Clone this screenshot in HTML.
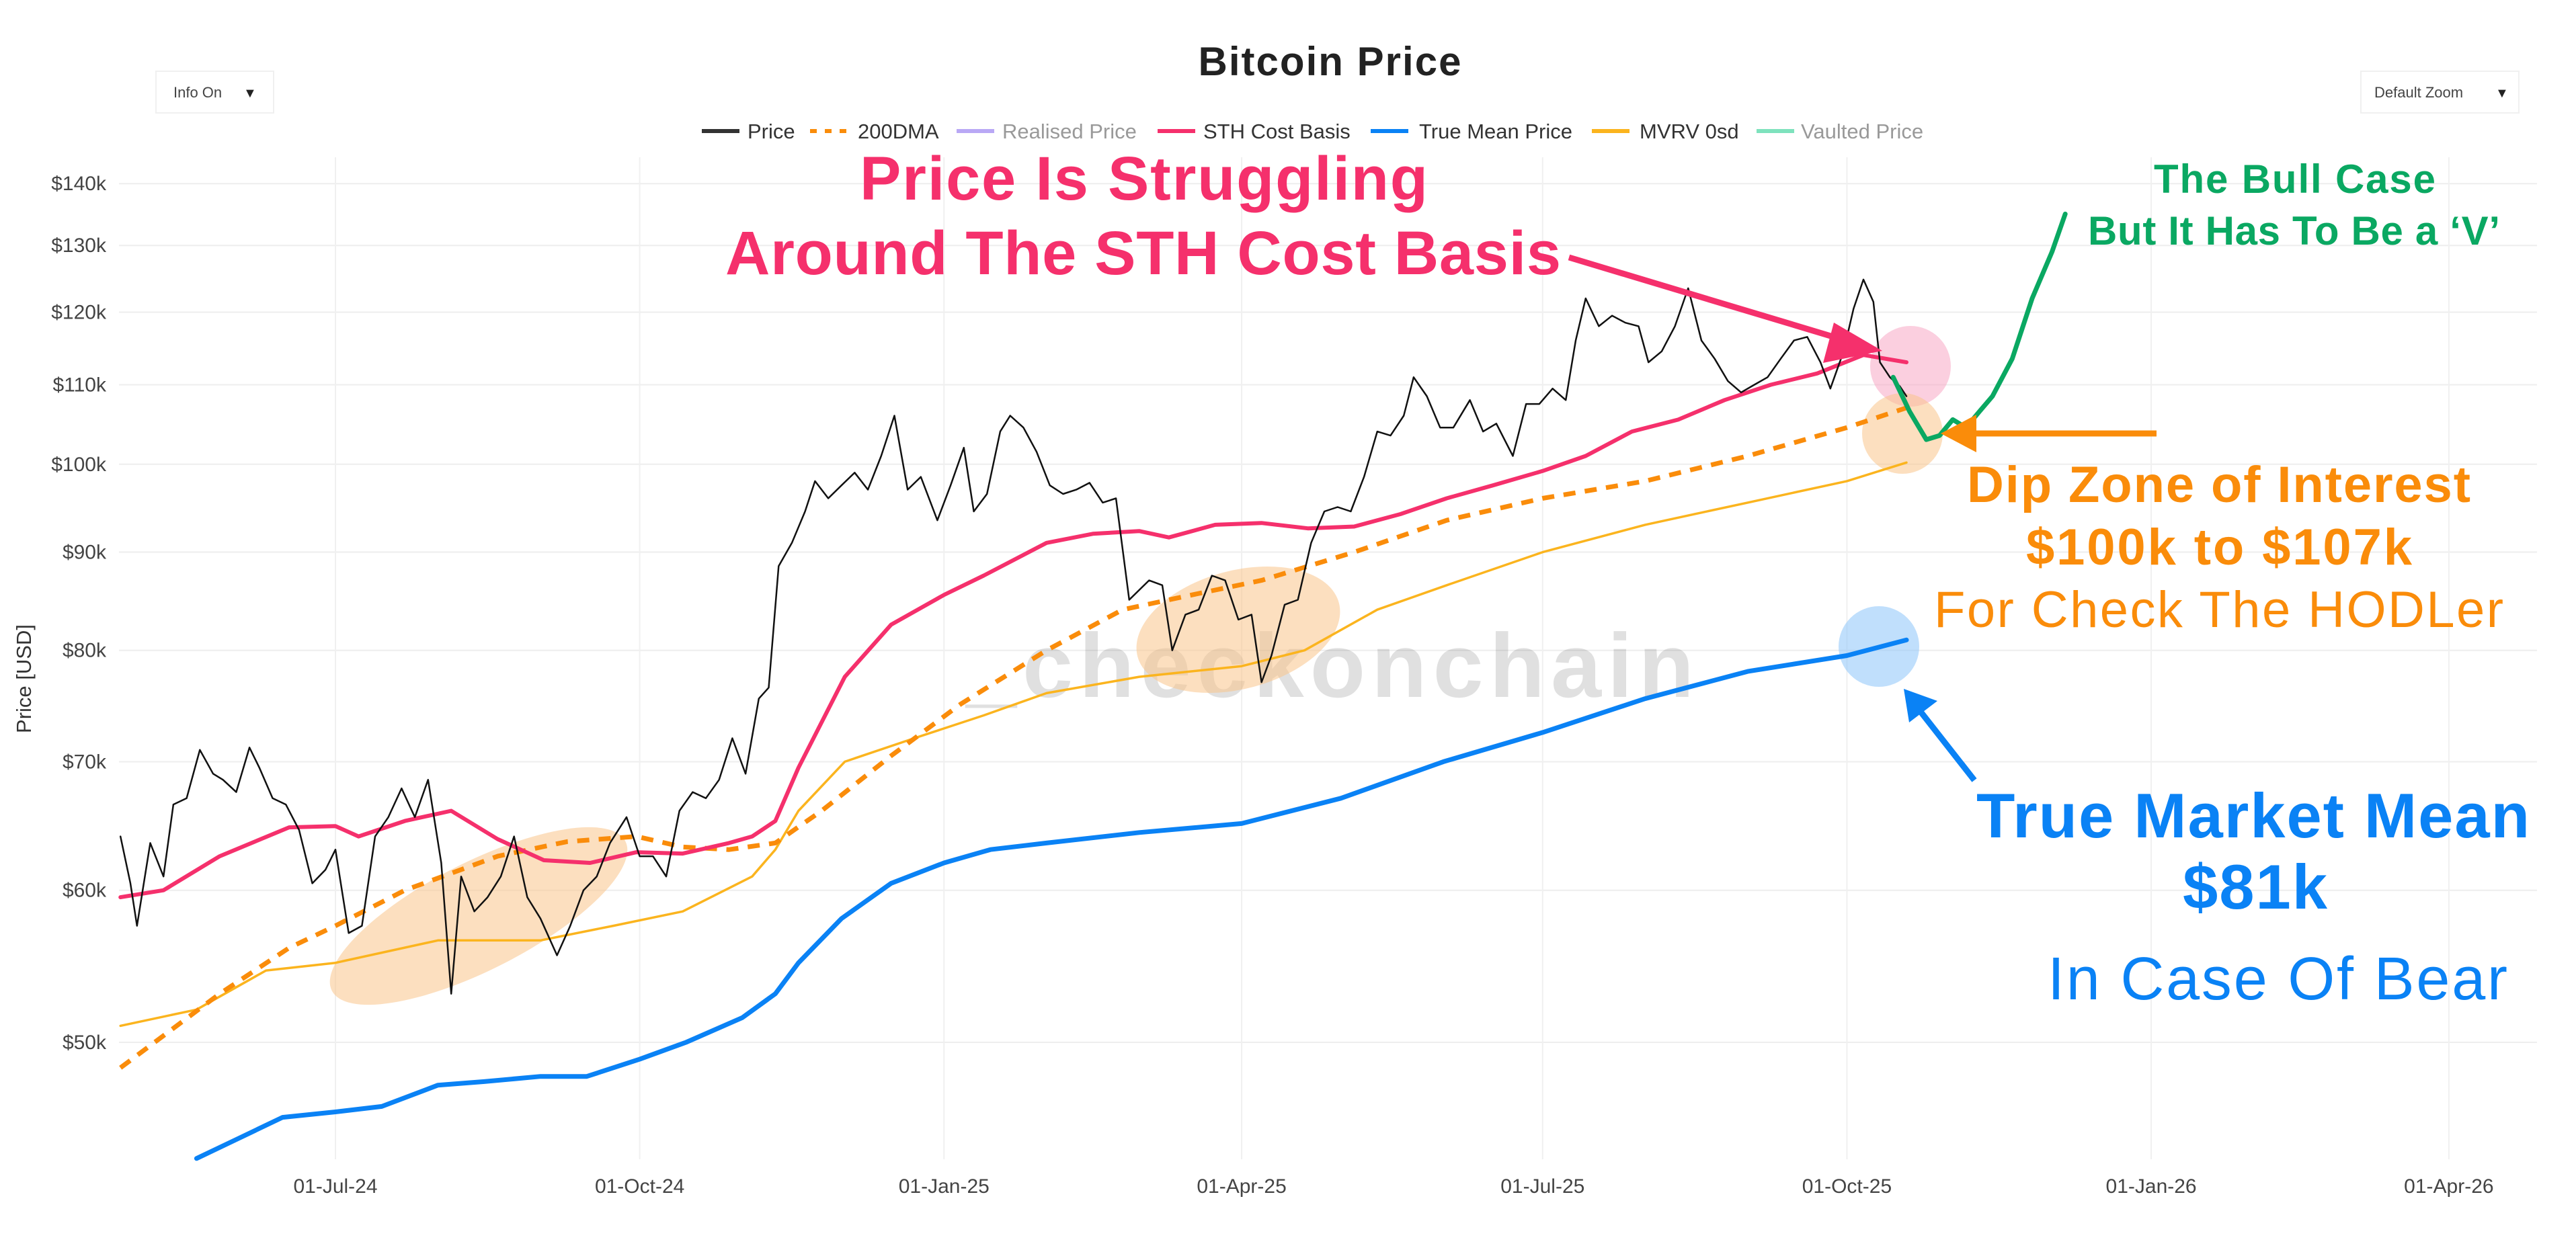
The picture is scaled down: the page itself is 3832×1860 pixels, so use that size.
<!DOCTYPE html>
<html><head><meta charset="utf-8"><style>
html,body{margin:0;padding:0;background:#fff;}
svg{display:block;font-family:"Liberation Sans",sans-serif;}
</style></head><body>
<svg id="chart" width="3832" height="1860" viewBox="0 0 3832 1860" xmlns="http://www.w3.org/2000/svg">
<text x="1978" y="112" text-anchor="middle" font-size="60" font-weight="bold" fill="#222" textLength="391">Bitcoin Price</text>
<g>
<rect x="232" y="106" width="175" height="62" fill="#fff" stroke="#f0f0f0" stroke-width="2"/>
<text x="258" y="145" font-size="22" fill="#444">Info On</text><text x="362" y="145" font-size="20" fill="#222">▼</text></g>
<g>
<rect x="3512" y="106" width="235" height="62" fill="#fff" stroke="#f0f0f0" stroke-width="2"/>
<text x="3532" y="145" font-size="22" fill="#444">Default Zoom</text><text x="3712" y="145" font-size="20" fill="#222">▼</text></g>
<g id="legend" font-size="31"></g>
<g id="grid"></g>
<text x="0" y="0" transform="translate(46,1010) rotate(-90)" text-anchor="middle" font-size="31" fill="#333">Price [USD]</text>
<text x="1437" y="1037" font-size="135" font-weight="bold" fill="#000" fill-opacity="0.12" textLength="1083">_checkonchain</text>
<g>
<ellipse cx="712" cy="1363" rx="245" ry="80" transform="rotate(-27 712 1363)" fill="#f9c48a" fill-opacity="0.55"/>
<ellipse cx="1842" cy="937" rx="155" ry="88" transform="rotate(-15 1842 937)" fill="#f9c48a" fill-opacity="0.55"/>
<circle cx="2842" cy="545" r="60" fill="#f7a8c4" fill-opacity="0.55"/>
<circle cx="2830" cy="645" r="60" fill="#f9c48a" fill-opacity="0.55"/>
<circle cx="2795" cy="962" r="60" fill="#8cc4fa" fill-opacity="0.55"/>
</g>
<g id="series"></g>
<g font-weight="bold">
<text x="1279" y="297" font-size="92" fill="#f5306c" textLength="845">Price Is Struggling</text>
<text x="1079" y="408" font-size="92" fill="#f5306c" textLength="1243">Around The STH Cost Basis</text>
<line x1="2334" y1="383" x2="2750" y2="508" stroke="#f5306c" stroke-width="9"/>
<polygon points="2800,522 2728,480 2712,540" fill="#f5306c"/>
<text x="3204" y="287" font-size="60" fill="#0aa862" textLength="419">The Bull Case</text>
<text x="3106" y="364" font-size="60" fill="#0aa862" textLength="613">But It Has To Be a ‘V’</text>
<line x1="3208" y1="645" x2="2920" y2="645" stroke="#fa8c0a" stroke-width="9"/>
<polygon points="2887,645 2940,617 2940,673" fill="#fa8c0a"/>
<text x="2926" y="747" font-size="76" fill="#fa8c0a" textLength="749">Dip Zone of Interest</text>
<text x="3014" y="840" font-size="76" fill="#fa8c0a" textLength="574">$100k to $107k</text>
<text x="2877" y="933" font-size="76" font-weight="normal" fill="#fa8c0a" textLength="847">For Check The HODLer</text>
<line x1="2937" y1="1161" x2="2850" y2="1050" stroke="#0a82f5" stroke-width="9"/>
<polygon points="2832,1025 2882,1043 2840,1075" fill="#0a82f5"/>
<text x="2940" y="1246" font-size="94" fill="#0a82f5" textLength="823">True Market Mean</text>
<text x="3247" y="1352" font-size="94" fill="#0a82f5" textLength="215">$81k</text>
<text x="3046" y="1487" font-size="90" font-weight="normal" fill="#0a82f5" textLength="684">In Case Of Bear</text>
</g>
</svg>
<script>
const priceDates=["2024-04-27","2024-04-30","2024-05-02","2024-05-06","2024-05-10","2024-05-13","2024-05-17","2024-05-21","2024-05-25","2024-05-28","2024-06-01","2024-06-05","2024-06-08","2024-06-12","2024-06-16","2024-06-20","2024-06-24","2024-06-28","2024-07-01","2024-07-05","2024-07-09","2024-07-13","2024-07-17","2024-07-21","2024-07-25","2024-07-29","2024-08-02","2024-08-05","2024-08-08","2024-08-12","2024-08-16","2024-08-20","2024-08-24","2024-08-28","2024-09-01","2024-09-06","2024-09-10","2024-09-14","2024-09-18","2024-09-22","2024-09-27","2024-10-01","2024-10-05","2024-10-09","2024-10-13","2024-10-17","2024-10-21","2024-10-25","2024-10-29","2024-11-02","2024-11-06","2024-11-09","2024-11-12","2024-11-16","2024-11-20","2024-11-23","2024-11-27","2024-12-01","2024-12-05","2024-12-09","2024-12-13","2024-12-17","2024-12-21","2024-12-25","2024-12-30","2025-01-03","2025-01-07","2025-01-10","2025-01-14","2025-01-18","2025-01-21","2025-01-25","2025-01-29","2025-02-02","2025-02-06","2025-02-10","2025-02-14","2025-02-18","2025-02-22","2025-02-26","2025-03-01","2025-03-04","2025-03-08","2025-03-11","2025-03-15","2025-03-19","2025-03-23","2025-03-27","2025-03-31","2025-04-04","2025-04-07","2025-04-10","2025-04-14","2025-04-18","2025-04-22","2025-04-26","2025-04-30","2025-05-04","2025-05-08","2025-05-12","2025-05-16","2025-05-20","2025-05-23","2025-05-27","2025-05-31","2025-06-04","2025-06-09","2025-06-13","2025-06-17","2025-06-22","2025-06-26","2025-06-30","2025-07-04","2025-07-08","2025-07-11","2025-07-14","2025-07-18","2025-07-22","2025-07-26","2025-07-30","2025-08-02","2025-08-06","2025-08-10","2025-08-14","2025-08-18","2025-08-22","2025-08-26","2025-08-30","2025-09-03","2025-09-07","2025-09-11","2025-09-15","2025-09-19","2025-09-23","2025-09-26","2025-09-30","2025-10-03","2025-10-06","2025-10-09","2025-10-11","2025-10-14","2025-10-17","2025-10-19"];
const priceValues=[64000,60500,57500,63500,61000,66500,67000,71000,69000,68500,67500,71200,69500,67000,66500,64500,60500,61500,63000,57000,57500,64000,65500,67800,65500,68500,62000,53000,61000,58500,59500,61000,64000,59500,58000,55500,57500,60000,61000,63500,65500,62500,62500,61000,66000,67500,67000,68500,72000,69000,75500,76500,88500,91000,94500,98000,96000,97500,99000,97000,101000,106000,97000,98500,93500,97500,102000,94500,96500,104000,106000,104500,101500,97500,96500,97000,97800,95500,96000,85000,86000,87000,86500,80000,83500,84000,87500,87000,83000,83500,77000,79500,84500,85000,91000,94500,95000,94500,98500,104000,103500,106000,111000,108500,104500,104500,108000,104000,105000,101000,107500,107500,109500,108000,116000,122000,118000,119500,118500,118000,113000,114500,118000,123500,116000,113500,110500,109000,110000,111000,113500,116000,116500,113000,109500,114500,120500,124800,121500,113000,111000,109800,108500];
const sthDates=["2024-04-27","2024-05-10","2024-05-27","2024-06-17","2024-07-01","2024-07-08","2024-07-22","2024-08-05","2024-08-19","2024-09-02","2024-09-16","2024-09-30","2024-10-14","2024-10-28","2024-11-04","2024-11-11","2024-11-18","2024-12-02","2024-12-16","2025-01-01","2025-01-13","2025-02-01","2025-02-15","2025-03-01","2025-03-10","2025-03-24","2025-04-07","2025-04-21","2025-05-05","2025-05-19","2025-06-02","2025-06-16","2025-07-01","2025-07-14","2025-07-28","2025-08-11","2025-08-25","2025-09-08","2025-09-22","2025-10-06","2025-10-19"];
const sthValues=[59500,60000,62500,64700,64800,64000,65200,66000,63800,62200,62000,62800,62700,63500,64000,65200,69500,77500,82500,85500,87500,91000,92000,92300,91600,93000,93200,92600,92800,94200,96000,97500,99200,101000,104000,105500,108000,110000,111500,114000,113000];
const dmaDates=["2024-04-27","2024-05-27","2024-06-17","2024-07-01","2024-07-22","2024-08-19","2024-09-09","2024-09-30","2024-10-14","2024-10-28","2024-11-11","2024-11-25","2024-12-16","2025-01-06","2025-02-01","2025-02-24","2025-03-17","2025-04-07","2025-05-05","2025-06-02","2025-07-01","2025-08-01","2025-09-01","2025-10-01","2025-10-19"];
const dmaValues=[48500,53000,56000,57500,60000,62500,63600,64000,63200,63000,63500,66000,70500,75000,80000,84000,85500,87000,90000,93500,96000,98000,101000,104500,107000];
const mvrvDates=["2024-04-27","2024-05-20","2024-06-10","2024-07-01","2024-08-01","2024-09-01","2024-09-23","2024-10-14","2024-11-04","2024-11-11","2024-11-18","2024-12-02","2024-12-23","2025-01-13","2025-02-01","2025-03-01","2025-04-01","2025-04-20","2025-05-12","2025-06-02","2025-07-01","2025-08-01","2025-09-01","2025-10-01","2025-10-19"];
const mvrvValues=[51000,52000,54500,55000,56500,56500,57500,58500,61000,63000,66000,70000,72000,74000,76000,77500,78500,80000,84000,86500,90000,93000,95500,98000,100200];
const tmpDates=["2024-05-20","2024-06-01","2024-06-15","2024-07-01","2024-07-15","2024-08-01","2024-08-15","2024-09-01","2024-09-15","2024-10-01","2024-10-15","2024-11-01","2024-11-11","2024-11-18","2024-12-01","2024-12-16","2025-01-01","2025-01-15","2025-02-01","2025-03-01","2025-04-01","2025-05-01","2025-06-01","2025-07-01","2025-08-01","2025-09-01","2025-10-01","2025-10-19"];
const tmpValues=[43500,44500,45700,46000,46300,47500,47700,48000,48000,49000,50000,51500,53000,55000,58000,60500,62000,63000,63500,64300,65000,67000,70000,72500,75500,78000,79500,81000];
const bullDates=["2025-10-15","2025-10-20","2025-10-25","2025-10-29","2025-11-02","2025-11-06","2025-11-10","2025-11-14","2025-11-20","2025-11-26","2025-12-02","2025-12-06"];
const bullValues=[111000,106500,103000,103500,105500,104500,106500,108500,113500,122000,129000,135000];
const yTickValues=[50000,60000,70000,80000,90000,100000,110000,120000,130000,140000];
const yTickLabels=["$50k","$60k","$70k","$80k","$90k","$100k","$110k","$120k","$130k","$140k"];
const xTickDates=["2024-07-01","2024-10-01","2025-01-01","2025-04-01","2025-07-01","2025-10-01","2026-01-01","2026-04-01"];
const xTickLabels=["01-Jul-24","01-Oct-24","01-Jan-25","01-Apr-25","01-Jul-25","01-Oct-25","01-Jan-26","01-Apr-26"];

const NS="http://www.w3.org/2000/svg";
const PL=177,PR=3774,PT=234,PB=1725;
const d0=Date.UTC(2024,6,1);
function xs(ds){const p=ds.split("-");return 499+((Date.UTC(+p[0],+p[1]-1,+p[2])-d0)/86400000)*4.92;}
function ys(v){return 1551-1241*Math.log(v/50000);}
function mk(tag,attrs,parent){const e=document.createElementNS(NS,tag);for(const k in attrs)e.setAttribute(k,attrs[k]);parent.appendChild(e);return e;}
const grid=document.getElementById("grid");
yTickValues.forEach((v,i)=>{
  const l=mk("line",{x1:PL,x2:PR,y1:ys(v),y2:ys(v),stroke:"#eeeeee","stroke-width":2},grid);
  
  
  const t=mk("text",{x:158,y:ys(v)+10,"text-anchor":"end","font-size":30,fill:"#444"},grid);
  t.textContent=yTickLabels[i];
  
  
});
xTickDates.forEach((d,i)=>{
  const l=mk("line",{x1:xs(d),x2:xs(d),y1:PT,y2:PB,stroke:"#f0f0f0","stroke-width":2},grid);
  
  
  const t=mk("text",{x:xs(d),y:1775,"text-anchor":"middle","font-size":30,fill:"#444"},grid);
  t.textContent=xTickLabels[i];
  
  
});
const series=document.getElementById("series");
function line(dates,vals,style,name){
  const pts=dates.map((d,i)=>xs(d).toFixed(1)+","+ys(vals[i]).toFixed(1)).join(" ");
  const p=mk("polyline",Object.assign({points:pts,fill:"none","stroke-linejoin":"round","stroke-linecap":"round"},style),series);
  
  
}
line(mvrvDates,mvrvValues,{stroke:"#fbb41e","stroke-width":3.5},"mvrv-0sd-line");
line(dmaDates,dmaValues,{stroke:"#fa8c0a","stroke-width":7,"stroke-dasharray":"18 14","stroke-linecap":"butt"},"200dma-line");
line(tmpDates,tmpValues,{stroke:"#0a82f5","stroke-width":7},"true-mean-price-line");
line(sthDates,sthValues,{stroke:"#f5306c","stroke-width":6},"sth-cost-basis-line");
line(priceDates,priceValues,{stroke:"#111","stroke-width":2.5},"price-line");
line(bullDates,bullValues,{stroke:"#0aa862","stroke-width":7},"bull-case-path");
const legend=document.getElementById("legend");
const legItems=[["Price","#333",1044,1112,"",1],["200DMA","#fa8c0a",1205,1276,"10 12",1],["Realised Price","#b9a8f5",1423,1491,"",0],["STH Cost Basis","#f5306c",1722,1790,"",1],["True Mean Price","#0a82f5",2039,2111,"",1],["MVRV 0sd","#fbb41e",2368,2439,"",1],["Vaulted Price","#7ee2bd",2613,2679,"",0]];
legItems.forEach(it=>{
  const g=mk("g",{},legend);
  
  
  mk("line",{x1:it[2],x2:it[2]+56,y1:195,y2:195,stroke:it[1],"stroke-width":6,"stroke-dasharray":it[4]||"none"},g);
  const t=mk("text",{x:it[3],y:206,"font-size":31,fill:it[5]?"#333":"#999"},g);
  t.textContent=it[0];
});
</script>
</body></html>
